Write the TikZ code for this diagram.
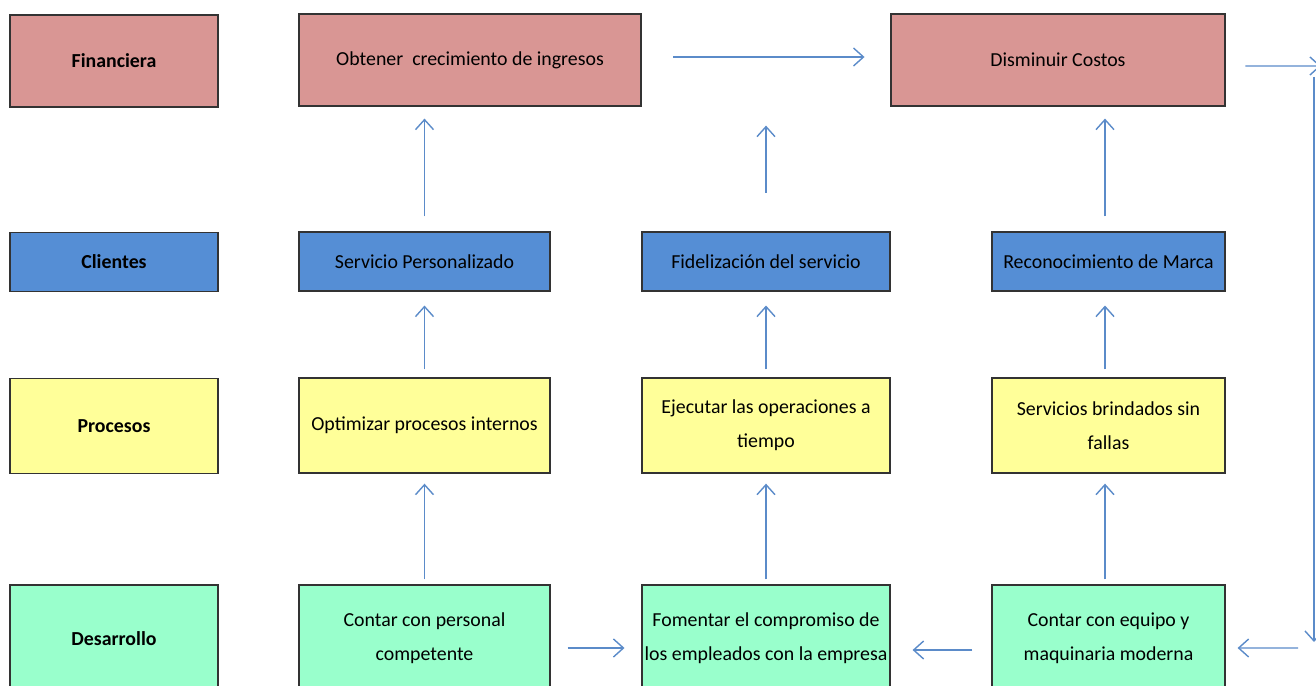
\documentclass[tikz,border=0pt]{standalone}
\usepackage{fontspec}
\setmainfont{Carlito}
\usetikzlibrary{arrows.meta,positioning}
\definecolor{finred}{HTML}{D99694}
\definecolor{cliblue}{HTML}{558ED5}
\definecolor{proyel}{HTML}{FFFF99}
\definecolor{desgrn}{HTML}{99FFCC}
\definecolor{arrblue}{HTML}{5B8BC9}

\begin{document}
\begin{tikzpicture}[x=0.02cm, y=-0.02cm]
\useasboundingbox (0,0) rectangle (1316,686);
\clip (0,0) rectangle (1316,686);
\tikzstyle{bx}=[draw=black!80, line width=0.75pt, inner sep=0pt, align=center,
  font=\fontsize{11.3}{19.5}\selectfont]
\tikzstyle{lbl}=[bx, minimum width=4.16cm, font=\fontsize{11.3}{19.5}\selectfont\bfseries]
\tikzstyle{fin}=[fill=finred, minimum height=1.84cm]
\tikzstyle{cli}=[fill=cliblue, minimum height=1.18cm]
\tikzstyle{pro}=[fill=proyel, minimum height=1.9cm]
\tikzstyle{des}=[fill=desgrn, minimum height=2.14cm]
\tikzstyle{colA}=[bx, minimum width=5.02cm]
\tikzstyle{colB}=[bx, minimum width=4.96cm]
\tikzstyle{colC}=[bx, minimum width=4.66cm]
\tikzstyle{arr}=[-{Straight Barb[length=2mm, width=3.6mm]}, line width=0.8pt, arrblue]
% perspective labels
\node[lbl, fin] (lfin) at (114,61) {Financiera};
\node[lbl, cli] (lcli) at (114,262) {Clientes};
\node[lbl, pro] (lpro) at (114,426) {Procesos};
\node[lbl, des] (ldes) at (114,638.5) {Desarrollo};
% financiera
\node[bx, fin, minimum width=6.84cm] (ob) at (470,60) {Obtener~ crecimiento de ingresos};
\node[bx, fin, minimum width=6.68cm] (dc) at (1058,60) {Disminuir Costos};
% clientes
\node[colA, cli] (sp) at (424.5,261.5) {Servicio Personalizado};
\node[colB, cli] (fid) at (766,261.5) {Fidelización del servicio};
\node[colC, cli] (rm) at (1108.5,261.5) {Reconocimiento de Marca};
% procesos
\node[colA, pro] (op) at (424.5,425.5) {Optimizar procesos internos};
\node[colB, pro] (eo) at (766,425.5) {Ejecutar las operaciones a\\tiempo};
\node[colC, pro] (sb) at (1108.5,425.5) {Servicios brindados sin\\fallas};
% desarrollo
\node[colA, des] (cp) at (424.5,638.5) {Contar con personal\\competente};
\node[colB, des] (fo) at (766,638.5) {Fomentar el compromiso de\\los empleados con la empresa};
\node[colC, des] (ce) at (1108.5,638.5) {Contar con equipo y\\maquinaria moderna};
% vertical links
\draw[arr, shorten <=8.5pt, shorten >=6.8pt] (sp.north) -- (sp.north |- ob.south);
\draw[arr, shorten <=22pt, shorten >=10.8pt] (fid.north) -- (fid.north |- dc.south);
\draw[arr, shorten <=8.5pt, shorten >=6.8pt] ([xshift=-0.07cm]rm.north) -- ([xshift=-0.07cm]rm.north |- dc.south);
\draw[arr, shorten <=4.5pt, shorten >=7.9pt] (op.north) -- (sp.south);
\draw[arr, shorten <=4.5pt, shorten >=7.9pt] (eo.north) -- (fid.south);
\draw[arr, shorten <=4.5pt, shorten >=7.9pt] ([xshift=-0.07cm]sb.north) -- ([xshift=-0.07cm]rm.south);
\draw[arr, shorten <=2.8pt, shorten >=5.7pt] (cp.north) -- (op.south);
\draw[arr, shorten <=2.8pt, shorten >=5.7pt] (fo.north) -- (eo.south);
\draw[arr, shorten <=2.8pt, shorten >=5.7pt] ([xshift=-0.07cm]ce.north) -- ([xshift=-0.07cm]sb.south);
% horizontal links
\draw[arr, shorten <=18pt, shorten >=14.7pt] ([yshift=0.06cm]ob.east) -- ([yshift=0.06cm]dc.west);
\draw[arr, shorten <=9.6pt, shorten >=9.6pt] ([yshift=-0.19cm]cp.east) -- ([yshift=-0.19cm]fo.west);
\draw[arr, shorten <=10.8pt, shorten >=12.5pt] ([yshift=-0.23cm]ce.west) -- ([yshift=-0.23cm]fo.east);
% return loop on the right edge
\coordinate (fr) at (1321,66);
\coordinate (vt) at (1314,77);
\coordinate (vb) at (1314,642);
\coordinate (rin) at (1298,648);
\draw[arr, shorten <=11.3pt] ([yshift=-0.12cm]dc.east) -- (fr);
\draw[arr] (vt) -- (vb);
\draw[arr, shorten >=6.8pt] (rin) -- ([yshift=-0.19cm]ce.east);
\end{tikzpicture}
\end{document}
